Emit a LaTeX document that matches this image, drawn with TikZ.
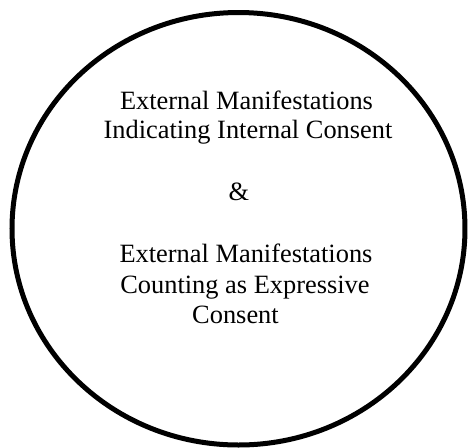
\documentclass[tikz,border=0pt]{standalone}
\usepackage{fontspec}
\setmainfont{Liberation Serif}
\begin{document}
\begin{tikzpicture}[x=0.5pt,y=-0.5pt,
  txt/.style={font=\fontsize{13.2}{15}\selectfont, anchor=base, inner sep=0pt}]
\useasboundingbox (0,0) rectangle (468,447);
\draw[line width=2.5pt] (238.5,228.75) ellipse [x radius=226.5, y radius=216.25];
\node[txt] (l1) at (246.5,109) {External Manifestations};
\node[txt] (l2) at (248,138) {Indicating Internal Consent};
\node[txt] (amp) at (239,200) {\&};
\node[txt] (l4) at (246,262) {External Manifestations};
\node[txt] (l5) at (245,293) {Counting as Expressive};
\node[txt] (l6) at (235.5,323) {Consent};
\end{tikzpicture}
\end{document}
